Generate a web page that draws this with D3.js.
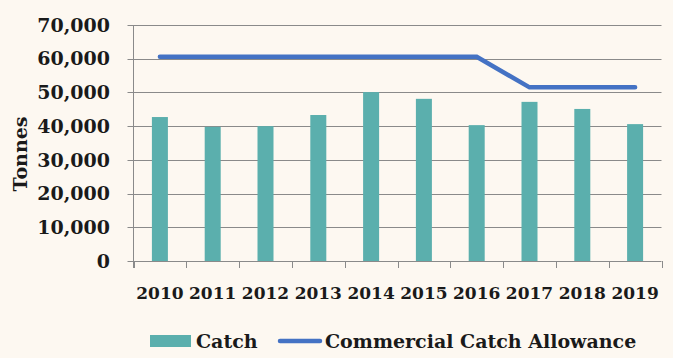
<!DOCTYPE html>
<html><head><meta charset="utf-8">
<script src="https://cdn.jsdelivr.net/npm/d3@7"></script>
<style>
html,body{margin:0;padding:0;background:#fdf8f1;}
svg{display:block;}
text{font-family:"DejaVu Serif",serif;font-weight:bold;fill:#1a1a1a;}
</style></head><body>
<svg id="c" width="673" height="358"></svg>
<script>
const years = ["2010","2011","2012","2013","2014","2015","2016","2017","2018","2019"];
const catchValues = [42700, 39800, 40000, 43300, 50100, 48100, 40300, 47200, 45100, 40600];
const allowanceValues = [60600, 60600, 60600, 60600, 60600, 60600, 60600, 51500, 51500, 51500];
const yTicks = [0, 10000, 20000, 30000, 40000, 50000, 60000, 70000];
const seriesNames = ["Catch", "Commercial Catch Allowance"];

(function(){
const svg = d3.select("#c");
const W = 673, H = 358;
svg.append("rect").attr("width", W).attr("height", H).attr("fill", "#fdf8f1");

const pl = 133.5, pr = 661.5, pt = 25, pb = 261;
const x = d3.scaleBand().domain(years).range([pl, pr]).paddingInner(0).paddingOuter(0);
const y = d3.scaleLinear().domain([0, 70000]).range([pb, pt]);

const grid = "#8a8a8a";
svg.append("g").selectAll("line").data(yTicks).join("line")
  .attr("x1", pl - 6).attr("x2", pr)
  .attr("y1", d => Math.round(y(d)) + 0.5).attr("y2", d => Math.round(y(d)) + 0.5)
  .attr("stroke", grid).attr("stroke-width", 1);

svg.append("line").attr("x1", pl).attr("x2", pl).attr("y1", pt).attr("y2", pb + 7)
  .attr("stroke", grid).attr("stroke-width", 1);
const bounds = years.map(d => x(d)).concat([pr]);
svg.append("g").selectAll("line").data(bounds).join("line")
  .attr("x1", d => Math.round(d) + 0.5).attr("x2", d => Math.round(d) + 0.5)
  .attr("y1", pb).attr("y2", pb + 7)
  .attr("stroke", grid).attr("stroke-width", 1);

const bw = 16;
svg.append("g").selectAll("rect").data(years).join("rect")
  .attr("x", (d) => x(d) + x.bandwidth() / 2 - bw / 2)
  .attr("y", (d, i) => y(catchValues[i]))
  .attr("width", bw)
  .attr("height", (d, i) => y(0) - y(catchValues[i]))
  .attr("fill", "#5bafad");

const line = d3.line().x((d, i) => x(years[i]) + x.bandwidth() / 2).y(d => y(d));
svg.append("path").datum(allowanceValues).attr("d", line)
  .attr("fill", "none").attr("stroke", "#4472c4").attr("stroke-width", 4.5)
  .attr("stroke-linecap", "round").attr("stroke-linejoin", "miter");

const fmt = d3.format(",");
svg.append("g").selectAll("text").data(yTicks).join("text")
  .attr("x", 110).attr("y", d => y(d)).attr("dy", "0.35em")
  .attr("text-anchor", "end").attr("font-size", 19).text(d => fmt(d));

svg.append("g").selectAll("text").data(years).join("text")
  .attr("x", d => x(d) + x.bandwidth() / 2).attr("y", 293).attr("dy", "0.35em")
  .attr("text-anchor", "middle").attr("font-size", 17).text(d => d);

svg.append("text").attr("transform", "translate(20,154) rotate(-90)")
  .attr("text-anchor", "middle").attr("dy", "0.35em").attr("font-size", 19).text("Tonnes");

svg.append("rect").attr("x", 150).attr("y", 335).attr("width", 41).attr("height", 12).attr("fill", "#5bafad");
svg.append("text").attr("x", 196).attr("y", 341).attr("dy", "0.35em").attr("font-size", 19).text(seriesNames[0]);
svg.append("line").attr("x1", 280).attr("x2", 320).attr("y1", 341).attr("y2", 341)
  .attr("stroke", "#4472c4").attr("stroke-width", 4.5).attr("stroke-linecap", "round");
svg.append("text").attr("x", 325).attr("y", 341).attr("dy", "0.35em").attr("font-size", 19).text(seriesNames[1]);
})();
</script>
</body></html>
